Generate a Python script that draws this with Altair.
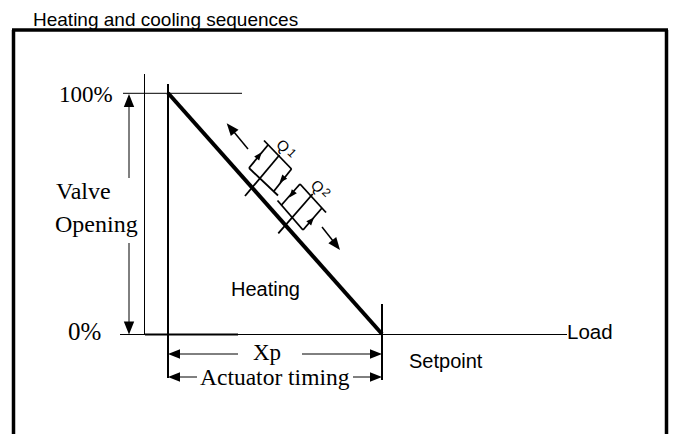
import math
import altair as alt
import pandas as pd

# ---- canvas (page pixel coordinates, the page has an 8px margin) ----
W, H = 661, 426
X0, Y0 = 8, 8

# ---- line segments: x1, y1, x2, y2, stroke width ----
seg_x1 = [12, 13.5, 666.5, 123, 144.5, 168, 120, 145, 382, 168,
          129, 129, 175, 302, 175, 353, 248, 322,
          264, 249, 249, 291.5, 279.5,
          300, 277.5, 300, 303, 312.7]
seg_y1 = [30, 30, 30, 93.3, 74, 84, 334.5, 334.5, 304, 93,
          100, 243, 354, 354, 377, 377, 149, 227,
          140.5, 168, 168, 169, 155,
          184, 200.5, 184, 230, 194]
seg_x2 = [668, 13.5, 666.5, 242, 144.5, 168, 567, 238, 382, 382,
          129, 129, 238, 376, 197, 376, 229, 337,
          291.5, 278, 268, 274, 245,
          326, 303, 281.5, 322, 278.3]
seg_y2 = [30, 434, 434, 93.3, 335, 378, 334.5, 334.5, 380, 334,
          178, 328, 354, 354, 377, 377, 126, 246,
          169, 195.5, 145, 191, 196,
          212.5, 230, 205, 208, 233.3]
seg_w = [3.5, 3.5, 3.5, 1, 1, 2, 1, 2, 2, 4,
         1, 1, 1, 1, 1, 1, 1.5, 1.5,
         1.8, 1.8, 1.8, 1.8, 1.8,
         1.8, 1.8, 1.8, 1.8, 1.8]

# ---- arrowheads: tip point, a point behind the tip (direction), length ----
ah_tx = [129, 129, 168, 382, 168, 382, 226.7, 340, 261.7, 279.5, 289.4, 314]
ah_ty = [94, 334.5, 354, 354, 377, 377, 123.3, 250, 152.3, 182.7, 197.6, 217.4]
ah_fx = [129, 129, 190, 360, 190, 360, 248, 322, 249, 291.5, 300, 303]
ah_fy = [110, 320, 354, 354, 377, 377, 149, 227, 168, 169, 184, 230]
ah_len = [13, 13, 12, 12, 12, 12, 12.5, 12.5, 8, 8, 8, 8]

# ---- texts ----
serif_text = ["100%", "Valve", "Opening", "0%", "Xp", "Actuator timing"]
serif_x = [59, 56, 55, 68, 253, 200]
serif_y = [101.5, 199, 231.5, 340, 360, 385]
serif_fs = [23, 24, 24, 25, 23, 23.5]

sans_text = ["Heating and cooling sequences", "Heating", "Setpoint", "Load"]
sans_x = [33, 231, 409, 567]
sans_y = [25.5, 296, 368, 339]
sans_fs = [19, 20, 20, 20.5]

q_text = ["Q", "1", "Q", "2"]
q_x = [283, 292, 317.5, 326.5]
q_y = [146, 153, 186.5, 192.5]
q_fs = [15, 12, 15, 12]

seg_df = pd.DataFrame({"x1": seg_x1, "y1": seg_y1, "x2": seg_x2, "y2": seg_y2, "w": seg_w})

rows = []
for tx, ty, fx, fy, ln in zip(ah_tx, ah_ty, ah_fx, ah_fy, ah_len):
    dx, dy = tx - fx, ty - fy
    d = math.hypot(dx, dy)
    ux, uy = dx / d, dy / d
    ang = math.degrees(math.atan2(dx, -dy)) % 360
    rows.append({"cx": tx - ux * ln / 2, "cy": ty - uy * ln / 2, "ang": ang, "sz": ln * ln})
ah_df = pd.DataFrame(rows)

serif_df = pd.DataFrame({"t": serif_text, "x": serif_x, "y": serif_y, "fs": serif_fs})
sans_df = pd.DataFrame({"t": sans_text, "x": sans_x, "y": sans_y, "fs": sans_fs})
q_df = pd.DataFrame({"t": q_text, "x": q_x, "y": q_y, "fs": q_fs})

xs = alt.Scale(domain=[X0, X0 + W], nice=False, zero=False)
ys = alt.Scale(domain=[Y0, Y0 + H], nice=False, zero=False, reverse=True)

rules = alt.Chart(seg_df).mark_rule(color="black", strokeCap="butt").encode(
    x=alt.X("x1:Q", scale=xs, axis=None),
    y=alt.Y("y1:Q", scale=ys, axis=None),
    x2="x2:Q",
    y2="y2:Q",
    strokeWidth=alt.StrokeWidth("w:Q", scale=None),
)

heads = alt.Chart(ah_df).mark_point(
    shape="M0,-1L0.8,1L-0.8,1Z", filled=True, color="black", opacity=1, strokeWidth=0
).encode(
    x=alt.X("cx:Q", scale=xs, axis=None),
    y=alt.Y("cy:Q", scale=ys, axis=None),
    angle=alt.Angle("ang:Q", scale=None),
    size=alt.Size("sz:Q", scale=None),
)

serif = alt.Chart(serif_df).mark_text(
    font="Liberation Serif", align="left", baseline="alphabetic", color="black"
).encode(
    x=alt.X("x:Q", scale=xs, axis=None),
    y=alt.Y("y:Q", scale=ys, axis=None),
    text="t:N",
    size=alt.Size("fs:Q", scale=None),
)

sans = alt.Chart(sans_df).mark_text(
    font="Liberation Sans", align="left", baseline="alphabetic", color="black"
).encode(
    x=alt.X("x:Q", scale=xs, axis=None),
    y=alt.Y("y:Q", scale=ys, axis=None),
    text="t:N",
    size=alt.Size("fs:Q", scale=None),
)

qlab = alt.Chart(q_df).mark_text(
    font="Liberation Sans", align="center", baseline="middle", angle=45, color="black"
).encode(
    x=alt.X("x:Q", scale=xs, axis=None),
    y=alt.Y("y:Q", scale=ys, axis=None),
    text="t:N",
    size=alt.Size("fs:Q", scale=None),
)

chart = alt.layer(rules, heads, serif, sans, qlab).properties(
    width=W, height=H, padding=0, autosize="none", background="white"
).configure_view(stroke=None)

chart.save("out.html", embed_options={"renderer": "svg", "actions": False})
